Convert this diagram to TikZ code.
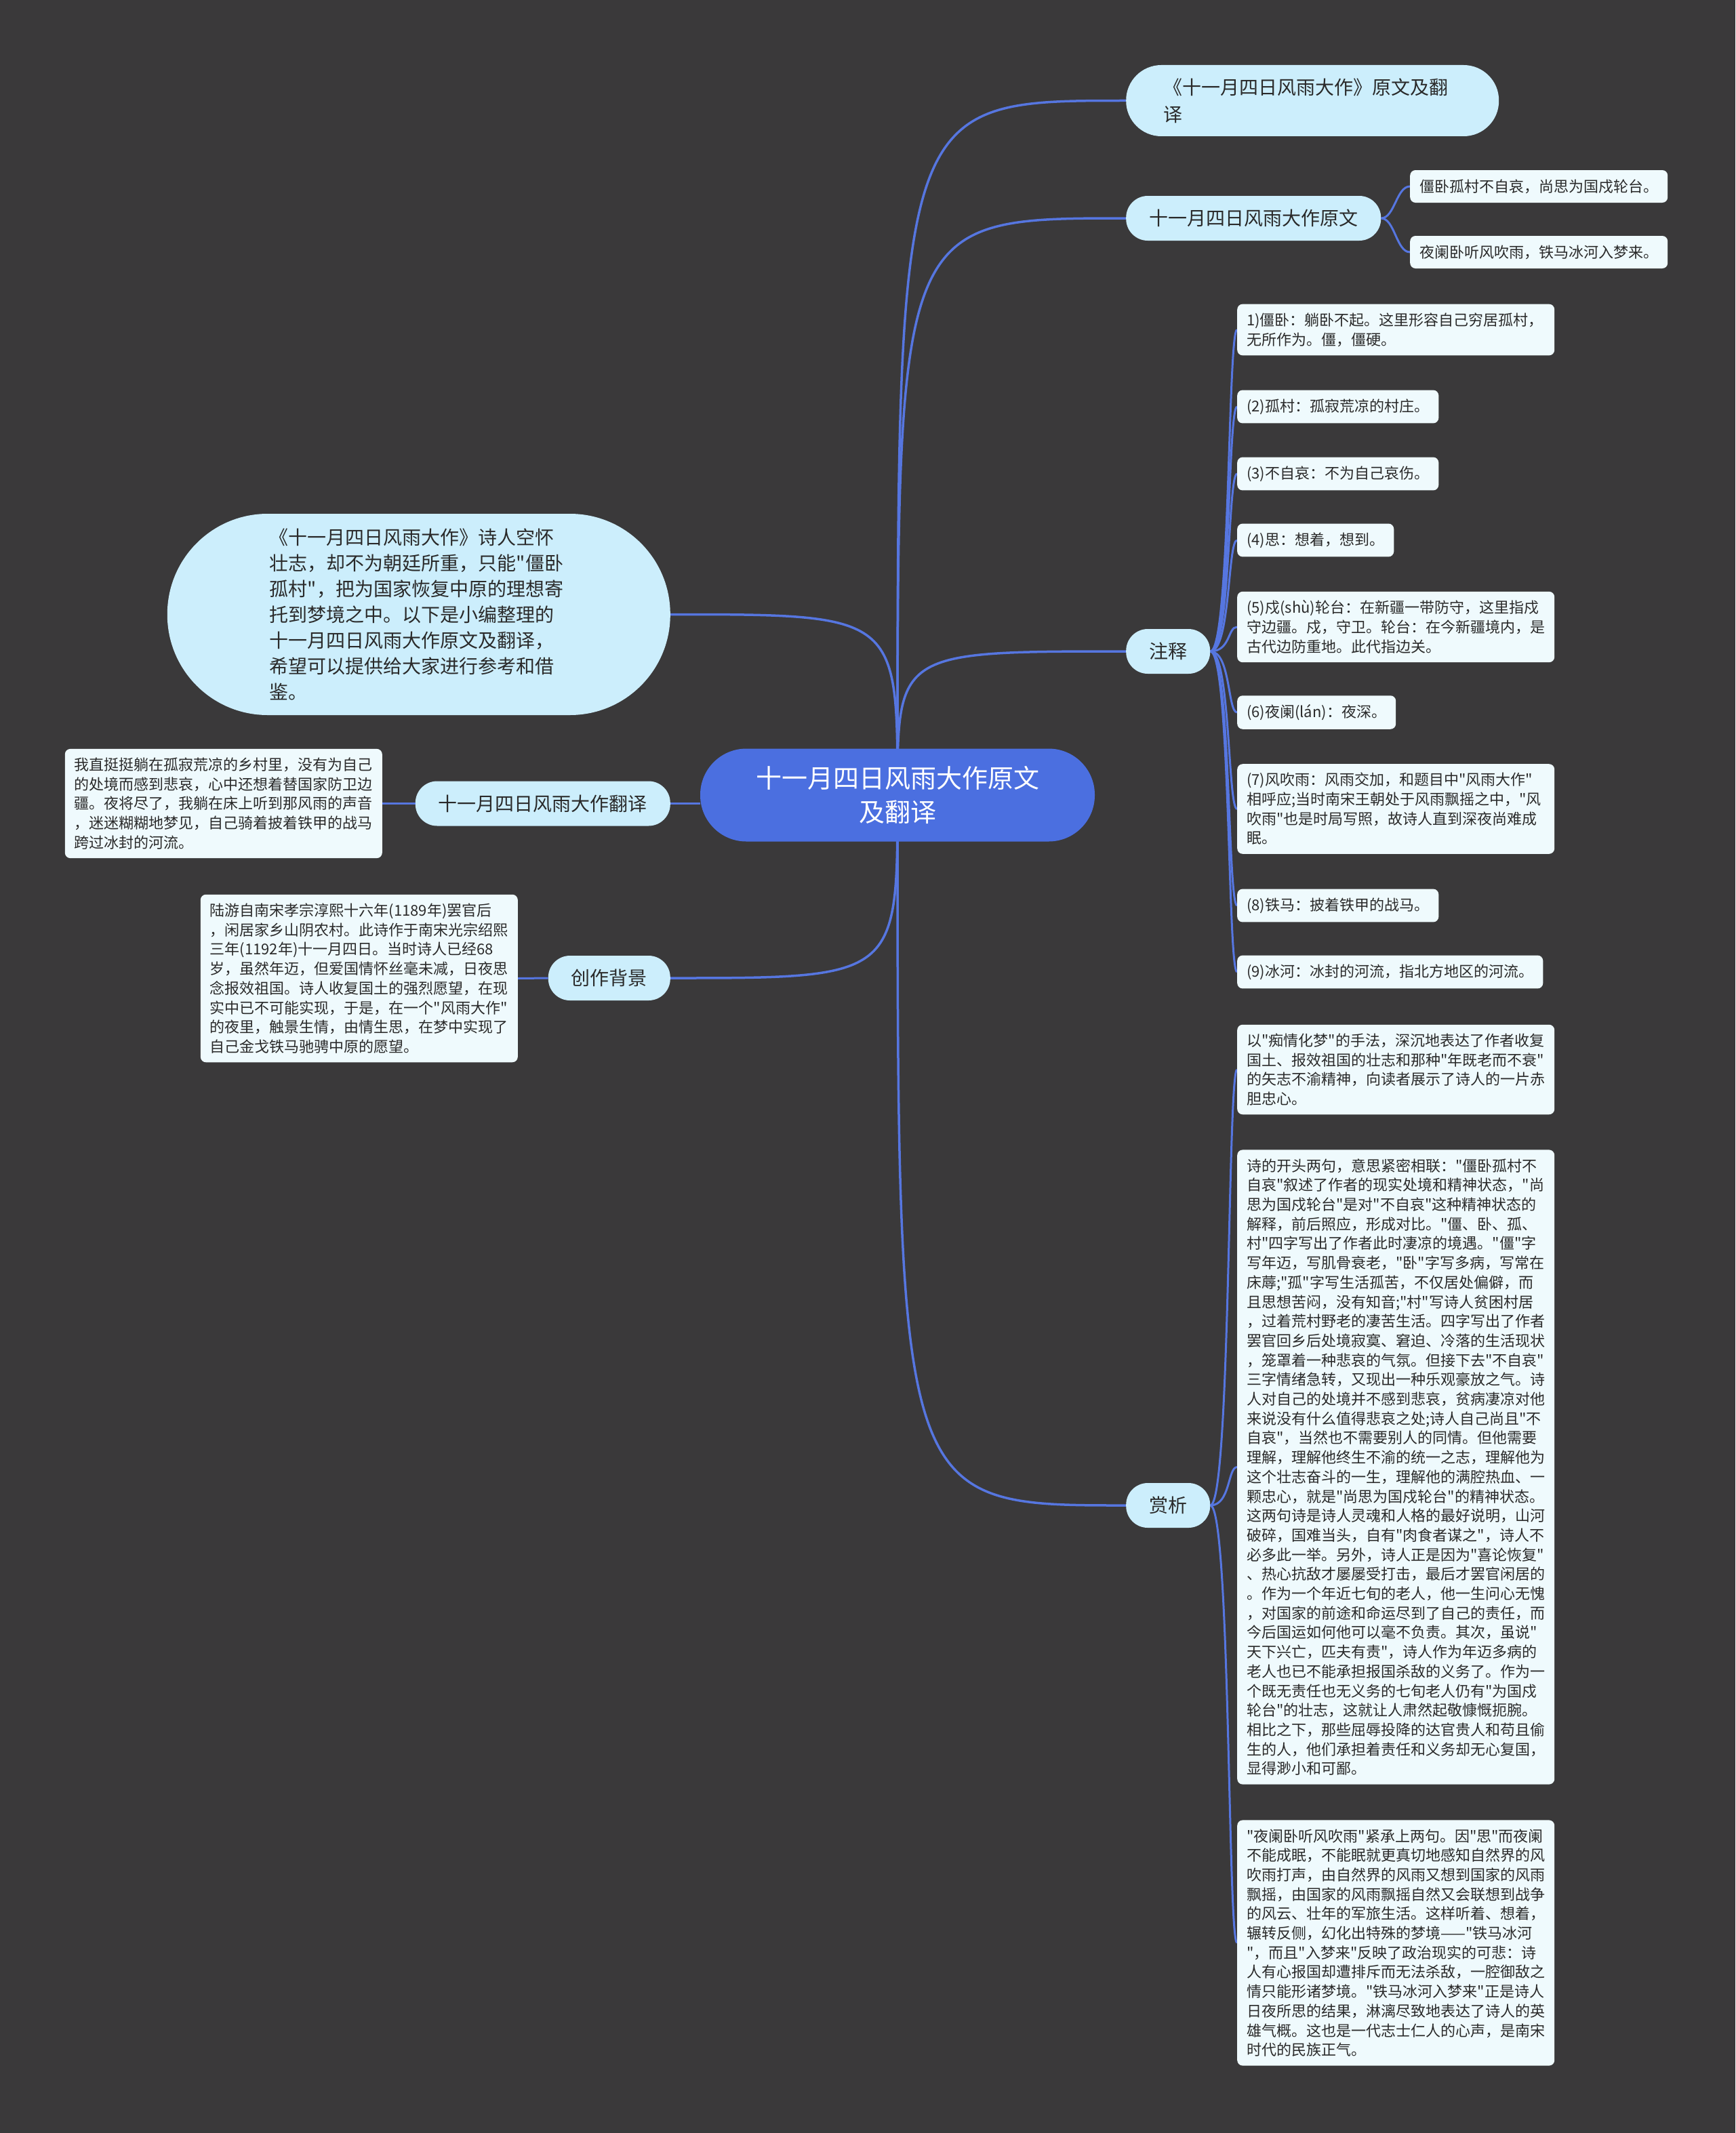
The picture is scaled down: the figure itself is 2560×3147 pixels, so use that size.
\documentclass[tikz,border=0pt]{standalone}
\usepackage{fontspec}
\setmainfont{Noto Sans CJK SC}[Ligatures=TeXOff]
\usetikzlibrary{backgrounds}

\definecolor{bgc}{HTML}{3A393A}
\definecolor{rootc}{HTML}{4B6FE0}
\definecolor{topicc}{HTML}{CCEEFC}
\definecolor{leafc}{HTML}{EFFAFD}
\definecolor{linec}{HTML}{5676E0}
\definecolor{txtc}{HTML}{2A2A2A}

\newcommand\rootfont{\fontsize{38}{50}\selectfont}
\newcommand\topicfont{\fontsize{28}{40}\selectfont}
\newcommand\introfont{\fontsize{28}{38}\selectfont}
\newcommand\leaffont{\fontsize{22}{28.7}\selectfont}

\begin{document}
\begin{tikzpicture}[
  x=1pt, y=-1pt,
  root/.style = {fill=rootc, text=white, font=\rootfont, align=center, minimum width=582pt, minimum height=137pt, rounded corners=68pt},
  topic/.style = {fill=topicc, text=txtc, font=\topicfont, minimum height=66pt, inner xsep=34pt, rounded corners=32pt},
  leaf/.style = {fill=leafc, text=txtc, font=\leaffont, inner xsep=14pt, inner ysep=13pt, minimum height=48pt, rounded corners=8pt},
  wide/.style = {leaf, text width=440pt, align=left},
  link/.style = {draw=linec, line width=3.5pt},
  twig/.style = {draw=linec, line width=3pt}
]
\node[root] (root) at (1324,1173) {十一月四日风雨大作原文\\及翻译};

\node[topic, anchor=west, text width=440pt, align=left, minimum width=550pt, minimum height=105pt, inner xsep=0pt, rounded corners=52pt] (title) at (1661,148.5) {《十一月四日风雨大作》原文及翻\\译};

\node[topic, anchor=west] (yuanwen) at (1661,322) {十一月四日风雨大作原文};
\node[leaf, anchor=west] (yw1) at (2080,275) {僵卧孤村不自哀，尚思为国戍轮台。};
\node[leaf, anchor=west] (yw2) at (2080,372) {夜阑卧听风吹雨，铁马冰河入梦来。};

\node[topic, anchor=west] (zhushi) at (1661,961) {注释};
\node[wide, anchor=west] (zs1) at (1825,486.5) {1)僵卧：躺卧不起。这里形容自己穷居孤村，\\无所作为。僵，僵硬。};
\node[leaf, anchor=west] (zs2) at (1825,600) {(2)孤村：孤寂荒凉的村庄。};
\node[leaf, anchor=west] (zs3) at (1825,699) {(3)不自哀：不为自己哀伤。};
\node[leaf, anchor=west] (zs4) at (1825,797) {(4)思：想着，想到。};
\node[wide, anchor=west] (zs5) at (1825,925) {(5)戍(shù)轮台：在新疆一带防守，这里指戍\\守边疆。戍，守卫。轮台：在今新疆境内，是\\古代边防重地。此代指边关。};
\node[leaf, anchor=west] (zs6) at (1825,1051) {(6)夜阑(lán)：夜深。};
\node[wide, anchor=west] (zs7) at (1825,1193.5) {(7)风吹雨：风雨交加，和题目中"风雨大作"\\相呼应;当时南宋王朝处于风雨飘摇之中，"风\\吹雨"也是时局写照，故诗人直到深夜尚难成\\眠。};
\node[leaf, anchor=west] (zs8) at (1825,1336) {(8)铁马：披着铁甲的战马。};
\node[leaf, anchor=west] (zs9) at (1825,1434) {(9)冰河：冰封的河流，指北方地区的河流。};

\node[topic, anchor=west] (shangxi) at (1661,2221) {赏析};
\node[wide, anchor=west] (sx1) at (1825,1578) {以"痴情化梦"的手法，深沉地表达了作者收复\\国土、报效祖国的壮志和那种"年既老而不衰"\\的矢志不渝精神，向读者展示了诗人的一片赤\\胆忠心。};
\node[wide, anchor=west] (sx2) at (1825,2164.5) {诗的开头两句，意思紧密相联："僵卧孤村不\\
自哀"叙述了作者的现实处境和精神状态，"尚\\
思为国戍轮台"是对"不自哀"这种精神状态的\\
解释，前后照应，形成对比。"僵、卧、孤、\\
村"四字写出了作者此时凄凉的境遇。"僵"字\\
写年迈，写肌骨衰老，"卧"字写多病，写常在\\
床蓐;"孤"字写生活孤苦，不仅居处偏僻，而\\
且思想苦闷，没有知音;"村"写诗人贫困村居\\
，过着荒村野老的凄苦生活。四字写出了作者\\
罢官回乡后处境寂寞、窘迫、冷落的生活现状\\
，笼罩着一种悲哀的气氛。但接下去"不自哀"\\
三字情绪急转，又现出一种乐观豪放之气。诗\\
人对自己的处境并不感到悲哀，贫病凄凉对他\\
来说没有什么值得悲哀之处;诗人自己尚且"不\\
自哀"，当然也不需要别人的同情。但他需要\\
理解，理解他终生不渝的统一之志，理解他为\\
这个壮志奋斗的一生，理解他的满腔热血、一\\
颗忠心，就是"尚思为国戍轮台"的精神状态。\\
这两句诗是诗人灵魂和人格的最好说明，山河\\
破碎，国难当头，自有"肉食者谋之"，诗人不\\
必多此一举。另外，诗人正是因为"喜论恢复"\\
、热心抗敌才屡屡受打击，最后才罢官闲居的\\
。作为一个年近七旬的老人，他一生问心无愧\\
，对国家的前途和命运尽到了自己的责任，而\\
今后国运如何他可以毫不负责。其次，虽说"\\
天下兴亡，匹夫有责"，诗人作为年迈多病的\\
老人也已不能承担报国杀敌的义务了。作为一\\
个既无责任也无义务的七旬老人仍有"为国戍\\
轮台"的壮志，这就让人肃然起敬慷慨扼腕。\\
相比之下，那些屈辱投降的达官贵人和苟且偷\\
生的人，他们承担着责任和义务却无心复国，\\
显得渺小和可鄙。};
\node[wide, anchor=west] (sx3) at (1825,2866.5) {"夜阑卧听风吹雨"紧承上两句。因"思"而夜阑\\
不能成眠，不能眠就更真切地感知自然界的风\\
吹雨打声，由自然界的风雨又想到国家的风雨\\
飘摇，由国家的风雨飘摇自然又会联想到战争\\
的风云、壮年的军旅生活。这样听着、想着，\\
辗转反侧，幻化出特殊的梦境——"铁马冰河\\
"，而且"入梦来"反映了政治现实的可悲：诗\\
人有心报国却遭排斥而无法杀敌，一腔御敌之\\
情只能形诸梦境。"铁马冰河入梦来"正是诗人\\
日夜所思的结果，淋漓尽致地表达了诗人的英\\
雄气概。这也是一代志士仁人的心声，是南宋\\
时代的民族正气。};

\node[topic, anchor=east, font=\introfont, text width=440pt, align=left, minimum width=742pt, minimum height=297pt, inner xsep=0pt, rounded corners=148pt] (intro) at (989,906.5) {《十一月四日风雨大作》诗人空怀\\壮志，却不为朝廷所重，只能"僵卧\\孤村"，把为国家恢复中原的理想寄\\托到梦境之中。以下是小编整理的\\十一月四日风雨大作原文及翻译，\\希望可以提供给大家进行参考和借\\鉴。};

\node[topic, anchor=east] (fanyi) at (989,1185.5) {十一月四日风雨大作翻译};
\node[wide, anchor=east] (fy1) at (564,1185.5) {我直挺挺躺在孤寂荒凉的乡村里，没有为自己\\的处境而感到悲哀，心中还想着替国家防卫边\\疆。夜将尽了，我躺在床上听到那风雨的声音\\，迷迷糊糊地梦见，自己骑着披着铁甲的战马\\跨过冰封的河流。};

\node[topic, anchor=east] (beijing) at (989,1443) {创作背景};
\node[wide, anchor=east] (bj1) at (764,1443.5) {陆游自南宋孝宗淳熙十六年(1189年)罢官后\\，闲居家乡山阴农村。此诗作于南宋光宗绍熙\\三年(1192年)十一月四日。当时诗人已经68\\岁，虽然年迈，但爱国情怀丝毫未减，日夜思\\念报效祖国。诗人收复国土的强烈愿望，在现\\实中已不可能实现，于是，在一个"风雨大作"\\的夜里，触景生情，由情生思，在梦中实现了\\自己金戈铁马驰骋中原的愿望。};

\begin{scope}[on background layer]
  \fill[bgc] (0,0) rectangle (2560,3147);
  \draw[link] (root.center) .. controls (root.center |- title.west) .. (title.west);
  \draw[link] (root.center) .. controls (root.center |- yuanwen.west) .. (yuanwen.west);
  \draw[link] (root.center) .. controls (root.center |- zhushi.west) .. (zhushi.west);
  \draw[link] (root.center) .. controls (root.center |- shangxi.west) .. (shangxi.west);
  \draw[link] (root.center) .. controls (root.center |- intro.east) .. (intro.east);
  \draw[link] (root.center) .. controls (root.center |- beijing.east) .. (beijing.east);
  \draw[link] (fanyi.east) -- (fanyi.east -| root.west);
  \draw[twig] (fanyi.west) -- (fy1.east);
  \draw[twig] (beijing.west) -- (bj1.east);
  \foreach \n in {yw1,yw2}
    \draw[twig] (yuanwen.east) .. controls +(20,0) and +(-20,0) .. (\n.west);
  \foreach \n in {zs1,zs2,zs3,zs4,zs5,zs6,zs7,zs8,zs9}
    \draw[twig] (zhushi.east) .. controls +(30,0) and +(-14,0) .. (\n.west);
  \foreach \n in {sx1,sx2,sx3}
    \draw[twig] (shangxi.east) .. controls +(30,0) and +(-14,0) .. (\n.west);
\end{scope}
\end{tikzpicture}
\end{document}
